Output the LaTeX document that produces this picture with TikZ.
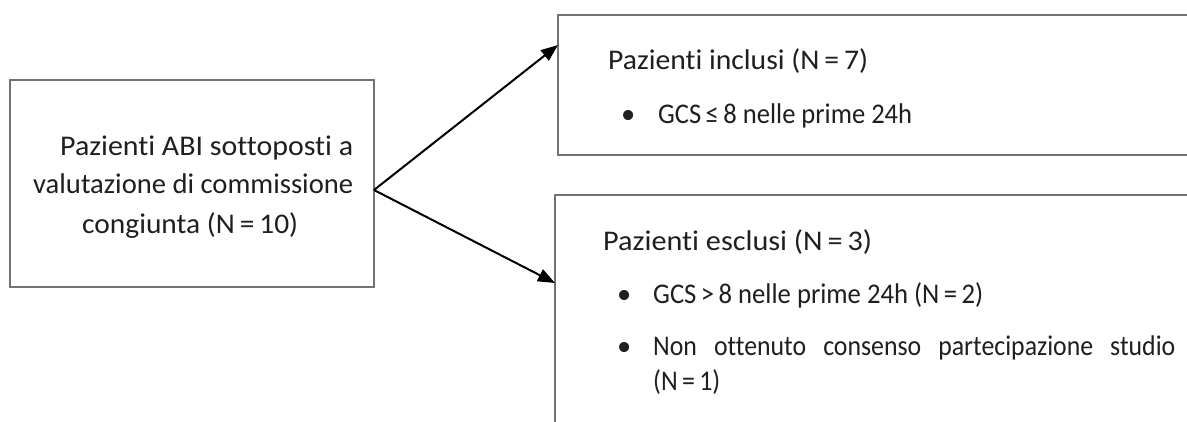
\documentclass[tikz,border=0pt]{standalone}
\usepackage{fontspec}
\usepackage{graphicx}
\setmainfont{Carlito}[Ligatures={NoCommon}]
\usetikzlibrary{arrows.meta}
\newcommand\fitw[2]{\resizebox{#1}{\height}{#2}}
\begin{document}
\begin{tikzpicture}[x=1pt,y=-1pt,
  box/.style={draw=black!55, line width=1.5pt, inner sep=0pt, outer sep=0pt},
  txt/.style={inner sep=0pt, font=\fontsize{28.5}{34}\selectfont, text=black!88},
  conn/.style={draw=black, line width=2pt, -{Triangle[length=17pt,width=13pt]}}]
\useasboundingbox (0,0) rectangle (1187,421);
\fill[white] (0,0) rectangle (1187,421);
\begin{scope}
\clip (0,0) rectangle (1187,421);
\node[box, anchor=north west, minimum width=364pt, minimum height=207pt] (src) at (10,80) {};
\node[box, anchor=north west, minimum width=660pt, minimum height=140pt] (inc) at (558,15) {};
\node[box, anchor=north west, minimum width=660pt, minimum height=260pt] (exc) at (555,195) {};
\end{scope}
% texts of the source box
\node[txt, anchor=base west] (s1) at (60,155) {\fitw{293pt}{Pazienti ABI sottoposti a}};
\node[txt, anchor=base west] (s2) at (33,193) {\fitw{320pt}{valutazione di commissione}};
\node[txt, anchor=base west] (s3) at (82,233) {\fitw{216pt}{congiunta (N\,=\,10)}};
% included
\node[txt, anchor=base west] (i1) at (608,69) {\fitw{260pt}{Pazienti inclusi (N\,=\,7)}};
\node[txt, anchor=base west] (ib) at (621,123) {\textbullet};
\node[txt, anchor=base west] (i2) at (658,123) {\fitw{254pt}{GCS\,≤\,8 nelle prime 24h}};
% excluded
\node[txt, anchor=base west] (e1) at (603,250) {\fitw{269pt}{Pazienti esclusi (N\,=\,3)}};
\node[txt, anchor=base west] (eb1) at (617,303) {\textbullet};
\node[txt, anchor=base west] (e2) at (653,303) {\fitw{330pt}{GCS\,>\,8 nelle prime 24h (N\,=\,2)}};
\node[txt, anchor=base west] (eb2) at (617,355) {\textbullet};
\node[txt, anchor=base west] (e3) at (653,355) {\scalebox{0.905}[1]{\makebox[577pt][s]{Non ottenuto consenso partecipazione studio}}};
\node[txt, anchor=base west] (e4) at (653,390) {\fitw{67pt}{(N\,=\,1)}};
% connectors
\draw[conn] ([yshift=-6.5pt]src.east) -- ([yshift=40pt]inc.west);
\draw[conn] ([yshift=-6.5pt]src.east) -- ([yshift=42pt]exc.west);
\end{tikzpicture}
\end{document}
